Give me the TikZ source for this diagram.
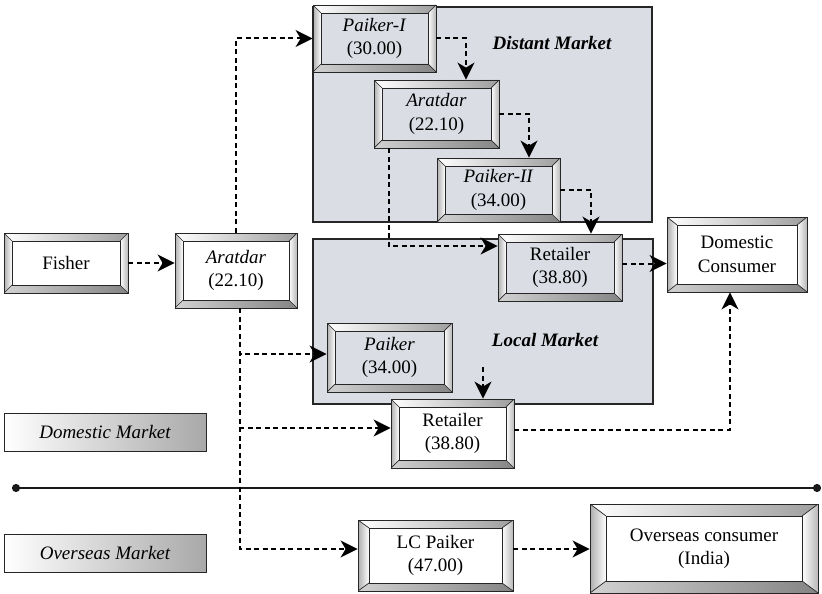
\documentclass[tikz,border=0pt]{standalone}
\usepackage{fontspec}
\setmainfont{Liberation Serif}
\usepackage{xcolor}
\usepackage{tikz}
\usetikzlibrary{arrows.meta}

\definecolor{mktgray}{RGB}{218,221,228}

\tikzset{
  bx/.store in=\bx, by/.store in=\by, bx=8pt, by=8pt,
  frame/.style={rectangle, draw=black!85, line width=0.8pt, fill=#1, inner sep=0pt, align=center,
    font=\fontsize{19}{23.5}\selectfont,
    path picture={
      \coordinate (sw) at (path picture bounding box.south west);
      \coordinate (ne) at (path picture bounding box.north east);
      \coordinate (isw) at ([shift={(\bx,\by)}]sw);
      \coordinate (ine) at ([shift={(-\bx,-\by)}]ne);
      % bevel
      \shade[left color=white, right color=black!38] (sw|-ne) -- (ne) -- (ine) -- (isw|-ine) -- cycle;
      \shade[left color=black!18, right color=black!48] (sw) -- (ne|-sw) -- (ine|-isw) -- (isw) -- cycle;
      \shade[left color=black!32, right color=white] (sw) -- (isw) -- (isw|-ine) -- (sw|-ne) -- cycle;
      \shade[left color=white, right color=black!28] (ne|-sw) -- (ne) -- (ine) -- (ine|-isw) -- cycle;
      % edges
      \draw[black!85, line width=0.8pt] (isw) rectangle (ine);
      \draw[black!85, line width=0.7pt] (sw) -- (isw) (ne) -- (ine) (sw|-ne) -- (isw|-ine) (ne|-sw) -- (ine|-isw);
    }},
  frame/.default=white,
  market/.style={draw=black!85, line width=1.8pt, fill=mktgray, inner sep=0pt},
  mktlabel/.style={font=\fontsize{19}{23}\selectfont\bfseries\itshape},
  legend/.style={draw=black!85, line width=0.8pt, left color=white, right color=black!34,
    minimum width=202pt, minimum height=38pt, font=\fontsize{19}{23}\selectfont\itshape},
  flow/.style={line width=2pt, black, dash pattern=on 5pt off 3.5pt,
    -{Stealth[length=17pt,width=17pt,inset=5pt]}},
}

\begin{document}
\begin{tikzpicture}[x=1pt,y=-1pt]
    \useasboundingbox (0,0) rectangle (822,594);

    % markets
    \node[market, minimum width=339pt, minimum height=215pt] (distant) at (482.5,114.5) {};
    \node[market, minimum width=340pt, minimum height=165pt] (local) at (483,321.5) {};
    \node[mktlabel] (distlbl) at (552,43) {Distant Market};
    \node[mktlabel] (loclbl) at (545,340) {Local Market};

    % legend
    \node[legend] (domleg) at (105,432) {Domestic Market};
    \node[legend] (ovsleg) at (105,553) {Overseas Market};

    % divider
    \coordinate (divL) at (12,488);
    \coordinate (divR) at (821,488);
    \draw[line width=2.2pt, black!90, {Circle[length=8pt]}-{Circle[length=8pt]}] (divL) -- (divR);

    % boxes
    \node[frame, minimum width=124pt, minimum height=60pt] (fisher) at (66,263) {Fisher};
    \node[frame, minimum width=122pt, minimum height=75pt] (arat) at (236,270.5) {\textit{Aratdar}\\(22.10)};
    \node[frame=mktgray, minimum width=123pt, minimum height=67pt] (paikI) at (374.5,38.5) {\textit{Paiker-I}\\(30.00)};
    \node[frame=mktgray, minimum width=125pt, minimum height=68pt] (aratD) at (436.5,114) {\textit{Aratdar}\\(22.10)};
    \node[frame=mktgray, minimum width=123pt, minimum height=64pt] (paikII) at (498.5,190) {\textit{Paiker-II}\\(34.00)};
    \node[frame=mktgray, minimum width=124pt, minimum height=67pt] (retL) at (560,267.5) {Retailer\\(38.80)};
    \node[frame=mktgray, minimum width=125pt, minimum height=69pt] (paik) at (389.5,357.5) {\textit{Paiker}\\(34.00)};
    \node[frame, minimum width=123pt, minimum height=69pt] (retB) at (452.5,433.5) {Retailer\\(38.80)};
    \node[frame, bx=10pt, minimum width=140pt, minimum height=75pt] (domc) at (737,254.5) {Domestic\\Consumer};
    \node[frame, bx=11pt, minimum width=155pt, minimum height=71pt] (lcp) at (435.5,555.5) {LC Paiker\\(47.00)};
    \node[frame, bx=16pt, by=12pt, minimum width=228pt, minimum height=89pt] (ovs) at (704,548.5) {Overseas consumer\\(India)};

    % flows
    \draw[flow] (fisher.east) -- (fisher.east -| arat.west);
    \draw[flow] (arat.north) |- (paikI.west);
    \draw[flow] (paikI.east) -| ([xshift=29.5pt]aratD.north);
    \draw[flow] (aratD.east) -| ([xshift=30.5pt]paikII.north);
    \draw[flow] (paikII.east) -| ([xshift=31pt]retL.north);
    \draw[flow] ([xshift=-47.5pt]aratD.south) |- ([yshift=21.5pt]retL.west);
    \draw[flow] ([yshift=4pt]retL.east) -- ([yshift=4pt]retL.east -| domc.west);
    \draw[flow] ([yshift=4pt]retB.east) -| ([xshift=-7pt]domc.south);
    % from Aratdar down
    \draw[flow] ([xshift=4pt]arat.south) |- ([yshift=3.5pt]paik.west);
    \draw[flow] ([xshift=4pt]arat.south) |- ([yshift=5.5pt]retB.west);
    \draw[flow] ([xshift=4pt]arat.south) |- ([yshift=6.5pt]lcp.west);
    \draw[flow] ([yshift=6.5pt]lcp.east) -- ([yshift=6.5pt]lcp.east -| ovs.west);
    % into lower Retailer
    \coordinate (drop) at (483,367);
    \draw[flow] (drop) -- (drop |- retB.north);
\end{tikzpicture}
\end{document}
